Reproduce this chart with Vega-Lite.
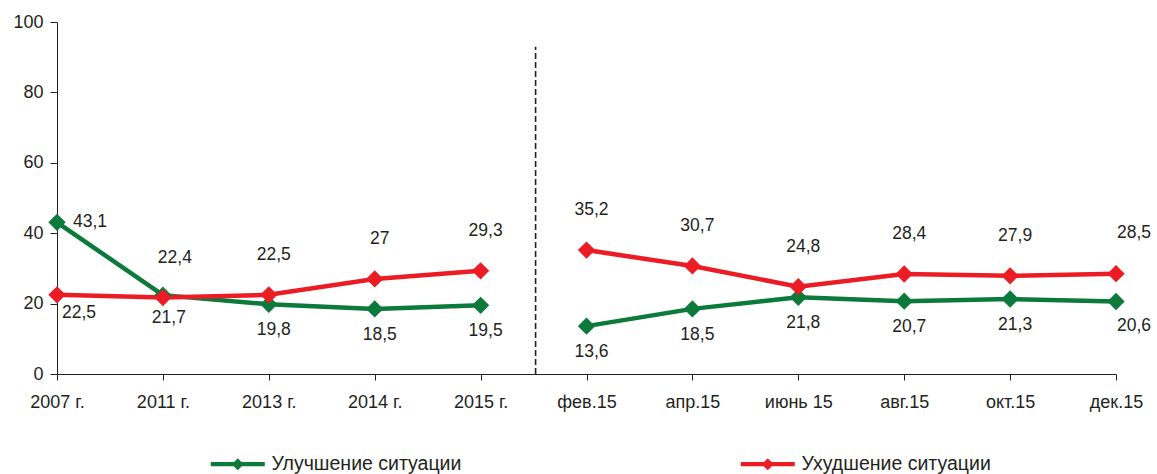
{
  "$schema": "https://vega.github.io/schema/vega-lite/v6.json",
  "width": 1059,
  "height": 352,
  "autosize": {"type": "none"},
  "padding": {"left": 57, "top": 22, "right": 41, "bottom": 100},
  "config": {
    "view": {"stroke": null},
    "font": "Liberation Sans",
    "locale": {"number": {"decimal": ",", "thousands": " ", "grouping": [3], "currency": ["", " ₽"]}}
  },
  "data": {
    "values": [
      {"x": "2007 г.", "series": "Улучшение ситуации", "period": "годы", "value": 43.1},
      {"x": "2011 г.", "series": "Улучшение ситуации", "period": "годы", "value": 22.4},
      {"x": "2013 г.", "series": "Улучшение ситуации", "period": "годы", "value": 19.8},
      {"x": "2014 г.", "series": "Улучшение ситуации", "period": "годы", "value": 18.5},
      {"x": "2015 г.", "series": "Улучшение ситуации", "period": "годы", "value": 19.5},
      {"x": "фев.15", "series": "Улучшение ситуации", "period": "месяцы", "value": 13.6},
      {"x": "апр.15", "series": "Улучшение ситуации", "period": "месяцы", "value": 18.5},
      {"x": "июнь 15", "series": "Улучшение ситуации", "period": "месяцы", "value": 21.8},
      {"x": "авг.15", "series": "Улучшение ситуации", "period": "месяцы", "value": 20.7},
      {"x": "окт.15", "series": "Улучшение ситуации", "period": "месяцы", "value": 21.3},
      {"x": "дек.15", "series": "Улучшение ситуации", "period": "месяцы", "value": 20.6},
      {"x": "2007 г.", "series": "Ухудшение ситуации", "period": "годы", "value": 22.5},
      {"x": "2011 г.", "series": "Ухудшение ситуации", "period": "годы", "value": 21.7},
      {"x": "2013 г.", "series": "Ухудшение ситуации", "period": "годы", "value": 22.5},
      {"x": "2014 г.", "series": "Ухудшение ситуации", "period": "годы", "value": 27},
      {"x": "2015 г.", "series": "Ухудшение ситуации", "period": "годы", "value": 29.3},
      {"x": "фев.15", "series": "Ухудшение ситуации", "period": "месяцы", "value": 35.2},
      {"x": "апр.15", "series": "Ухудшение ситуации", "period": "месяцы", "value": 30.7},
      {"x": "июнь 15", "series": "Ухудшение ситуации", "period": "месяцы", "value": 24.8},
      {"x": "авг.15", "series": "Ухудшение ситуации", "period": "месяцы", "value": 28.4},
      {"x": "окт.15", "series": "Ухудшение ситуации", "period": "месяцы", "value": 27.9},
      {"x": "дек.15", "series": "Ухудшение ситуации", "period": "месяцы", "value": 28.5}
    ]
  },
  "encoding": {
    "x": {
      "field": "x",
      "type": "ordinal",
      "scale": {
        "type": "point",
        "padding": 0,
        "domain": ["2007 г.", "2011 г.", "2013 г.", "2014 г.", "2015 г.", "фев.15", "апр.15", "июнь 15", "авг.15", "окт.15", "дек.15"]
      },
      "axis": {
        "title": null,
        "labelAngle": 0,
        "labelFontSize": 18,
        "labelColor": "#231f20",
        "labelFont": "Liberation Sans",
        "domainColor": "#231f20",
        "tickColor": "#231f20",
        "tickSize": 6,
        "labelPadding": 13,
        "grid": false
      }
    },
    "y": {
      "field": "value",
      "type": "quantitative",
      "scale": {"domain": [0, 100], "nice": false},
      "axis": {
        "title": null,
        "values": [0, 20, 40, 60, 80, 100],
        "labelFontSize": 18,
        "labelColor": "#231f20",
        "labelFont": "Liberation Sans",
        "domainColor": "#231f20",
        "tickColor": "#231f20",
        "tickSize": 7,
        "labelPadding": 7,
        "grid": false
      }
    },
    "color": {
      "field": "series",
      "type": "nominal",
      "scale": {"domain": ["Улучшение ситуации", "Ухудшение ситуации"], "range": ["#0b7a3b", "#ec1c24"]},
      "legend": {
        "title": null,
        "orient": "none",
        "legendX": 171,
        "legendY": 432,
        "direction": "horizontal",
        "padding": 0,
        "columnPadding": 278,
        "symbolType": "M-4.5,-0.35H4.5V0.35H-4.5Z M0,-1L1,0L0,1L-1,0Z",
        "symbolSize": 144,
        "symbolStrokeWidth": 0,
        "labelOffset": 24,
        "labelFontSize": 19.5,
        "labelFont": "Liberation Sans",
        "labelColor": "#231f20",
        "labelLimit": 400,
        "encode": {
          "symbols": {"update": {"fill": {"scale": "color", "field": "value"}, "stroke": {"value": "transparent"}, "opacity": {"value": 1}}}
        }
      }
    }
  },
  "layer": [
    {
      "mark": {"type": "line", "strokeWidth": 4.5},
      "encoding": {"detail": {"field": "period"}}
    },
    {
      "mark": {"type": "point", "shape": "diamond", "filled": true, "size": 300, "opacity": 1}
    },
    {
      "data": {"values": [{"x": "2015 г.", "lo": 0, "hi": 93}]},
      "mark": {"type": "rule", "strokeDash": [6, 3], "strokeWidth": 1.6, "xOffset": 55, "stroke": "#231f20"},
      "encoding": {
        "x": {"field": "x", "type": "ordinal"},
        "y": {"field": "lo", "type": "quantitative"},
        "y2": {"field": "hi"},
        "color": {"value": "#231f20"}
      }
    },
    {
      "transform": [{"filter": "datum.series == 'Ухудшение ситуации' && indexof(['2007 г.', '2011 г.', 'дек.15'], datum.x) < 0"}],
      "mark": {"type": "text", "fontSize": 17.5, "font": "Liberation Sans", "dx": 5, "dy": -40},
      "encoding": {"text": {"field": "value", "type": "quantitative", "format": "~g"}, "color": {"value": "#231f20"}}
    },
    {
      "transform": [{"filter": "datum.series == 'Улучшение ситуации' && indexof(['2007 г.', '2011 г.', 'дек.15'], datum.x) < 0"}],
      "mark": {"type": "text", "fontSize": 17.5, "font": "Liberation Sans", "dx": 5, "dy": 26},
      "encoding": {"text": {"field": "value", "type": "quantitative", "format": "~g"}, "color": {"value": "#231f20"}}
    },
    {
      "transform": [{"filter": "datum.series == 'Ухудшение ситуации' && datum.x == 'дек.15'"}],
      "mark": {"type": "text", "fontSize": 17.5, "font": "Liberation Sans", "dx": 18, "dy": -41},
      "encoding": {"text": {"field": "value", "type": "quantitative", "format": "~g"}, "color": {"value": "#231f20"}}
    },
    {
      "transform": [{"filter": "datum.series == 'Улучшение ситуации' && datum.x == 'дек.15'"}],
      "mark": {"type": "text", "fontSize": 17.5, "font": "Liberation Sans", "dx": 18, "dy": 25},
      "encoding": {"text": {"field": "value", "type": "quantitative", "format": "~g"}, "color": {"value": "#231f20"}}
    },
    {
      "transform": [{"filter": "datum.series == 'Улучшение ситуации' && datum.x == '2011 г.'"}],
      "mark": {"type": "text", "fontSize": 17.5, "font": "Liberation Sans", "dx": 12, "dy": -37},
      "encoding": {"text": {"field": "value", "type": "quantitative", "format": "~g"}, "color": {"value": "#231f20"}}
    },
    {
      "transform": [{"filter": "datum.series == 'Ухудшение ситуации' && datum.x == '2011 г.'"}],
      "mark": {"type": "text", "fontSize": 17.5, "font": "Liberation Sans", "dx": 6, "dy": 20},
      "encoding": {"text": {"field": "value", "type": "quantitative", "format": "~g"}, "color": {"value": "#231f20"}}
    },
    {
      "transform": [{"filter": "datum.series == 'Улучшение ситуации' && datum.x == '2007 г.'"}],
      "mark": {"type": "text", "fontSize": 17.5, "font": "Liberation Sans", "align": "left", "dx": 16, "dy": 0},
      "encoding": {"text": {"field": "value", "type": "quantitative", "format": "~g"}, "color": {"value": "#231f20"}}
    },
    {
      "transform": [{"filter": "datum.series == 'Ухудшение ситуации' && datum.x == '2007 г.'"}],
      "mark": {"type": "text", "fontSize": 17.5, "font": "Liberation Sans", "align": "left", "dx": 5, "dy": 18},
      "encoding": {"text": {"field": "value", "type": "quantitative", "format": "~g"}, "color": {"value": "#231f20"}}
    }
  ]
}
